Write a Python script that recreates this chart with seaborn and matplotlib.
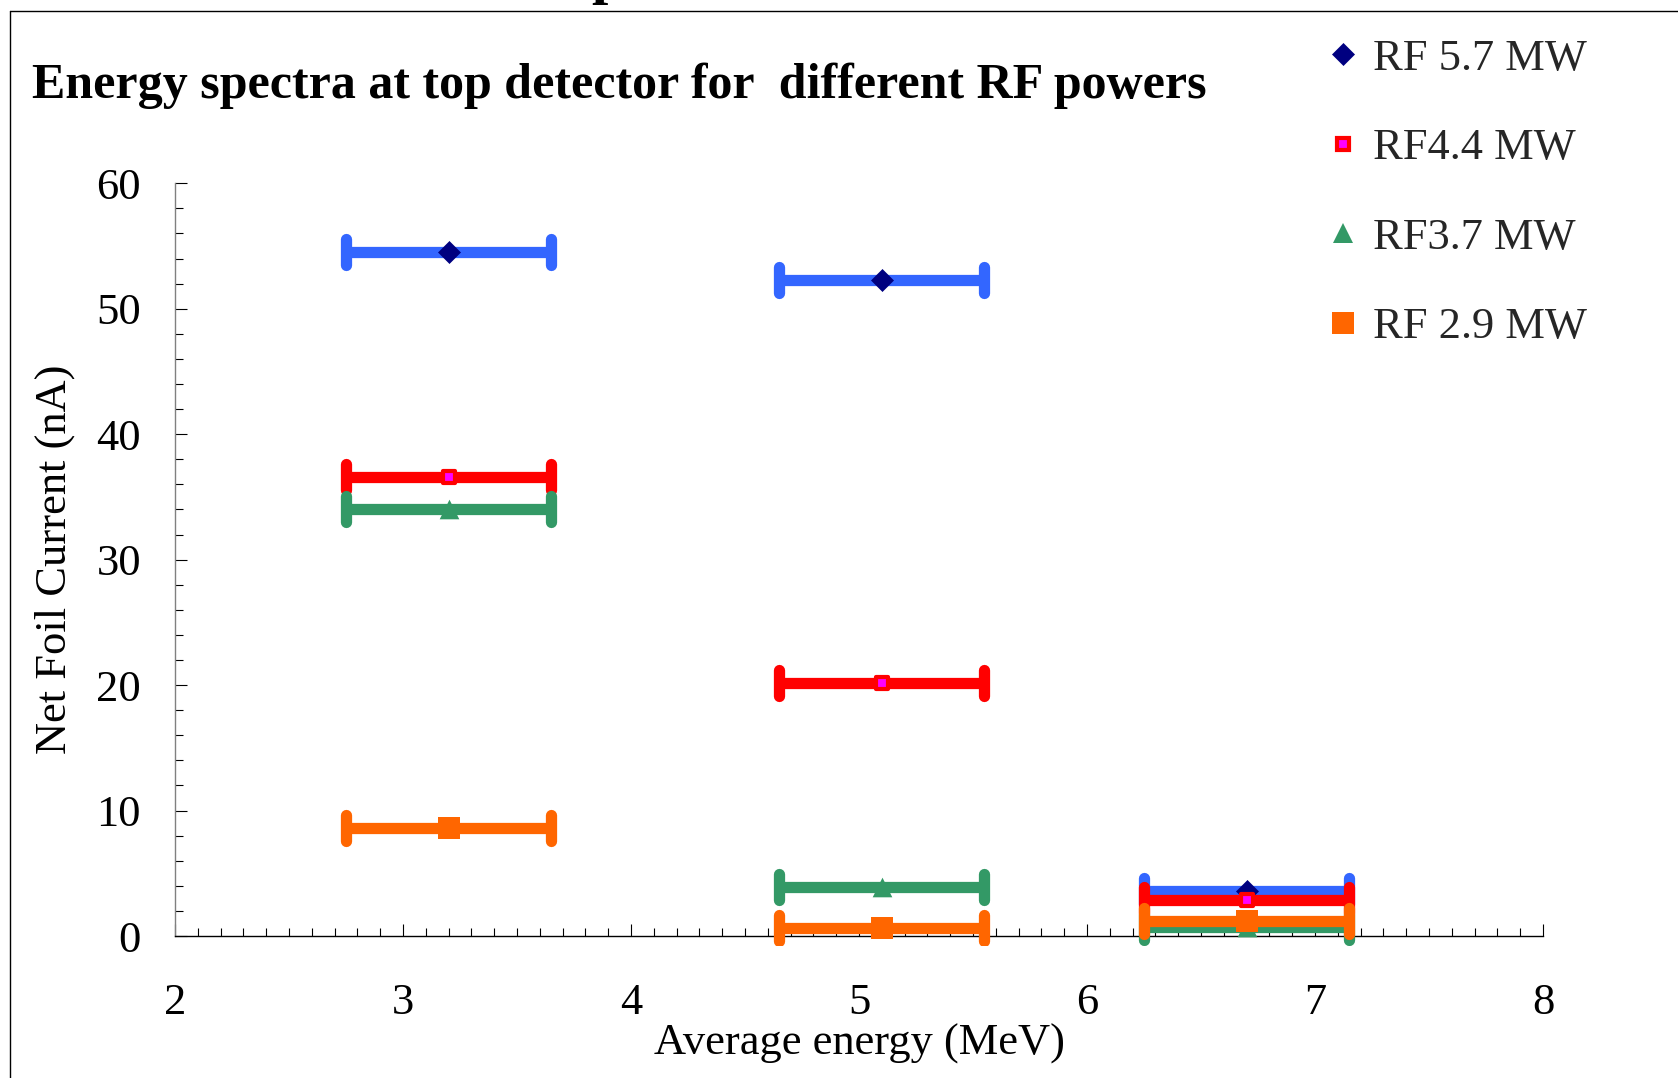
import numpy as np
import pandas as pd
import matplotlib
matplotlib.use("Agg")
import matplotlib.pyplot as plt
import seaborn as sns
from matplotlib.lines import Line2D
from matplotlib.markers import MarkerStyle
from matplotlib.patches import Rectangle
from matplotlib.ticker import MultipleLocator

# ---------------- data ----------------
energy = [3.2, 5.1, 6.7]            # average energy (MeV)
energy_halfwidth = [0.45, 0.45, 0.45]
rf57 = [54.5, 52.3, 3.6]            # RF 5.7 MW
rf44 = [36.6, 20.2, 2.9]            # RF 4.4 MW
rf37 = [34.0, 3.9, 0.7]             # RF 3.7 MW
rf29 = [8.6, 0.6, 1.2]              # RF 2.9 MW
labels = ["RF 5.7 MW", "RF4.4 MW", "RF3.7 MW", "RF 2.9 MW"]
title = "Energy spectra at top detector for  different RF powers"
xlabel = "Average energy (MeV)"
ylabel = "Net Foil Current (nA)"

sns.set_style("white")
plt.rcParams["font.family"] = ["Liberation Serif", "DejaVu Serif"]

fig = plt.figure(figsize=(16.78, 10.78), dpi=100)
ax = fig.add_axes([0.1043, 0.1317, 0.8153, 0.6983])
ax.set_facecolor("white")

styles = [
    # values, bar colour, marker, face, edge, size(pt^2), edge width
    (rf57, "#3366FF", "D", "#000080", "#000080", 125, 0.5),
    (rf44, "#FF0000", "s", "#FF00FF", "#FF0000", 85, 3.0),
    (rf37, "#339966", "^", "#339966", "#339966", 200, 0.0),
    (rf29, "#FF6600", "s", "#FF6600", "#FF6600", 250, 0.0),
]

handles = []
for i, (vals, bar_c, mk, face, edge, s, lw) in enumerate(styles):
    z = 3 + 2 * i
    eb = ax.errorbar(energy, vals, xerr=energy_halfwidth, fmt="none",
                     ecolor=bar_c, elinewidth=8.1, capsize=9.5, capthick=8.1,
                     zorder=z)
    clip = Rectangle((2, -0.72), 6, 80, transform=ax.transData)
    for cl in eb[1]:
        cl.set_marker(MarkerStyle("|", capstyle="round"))
        cl.set_zorder(z)
        cl.set_clip_on(True)
        cl.set_clip_path(clip)
    for bc in eb[2]:
        bc.set_zorder(z)
        bc.set_clip_on(True)
        bc.set_clip_path(clip)
    sns.scatterplot(x=energy, y=vals, marker=mk, s=s, color=face,
                    edgecolor=edge, linewidth=lw, zorder=z + 1, ax=ax,
                    legend=False, clip_on=False)
    handles.append(Line2D([], [], ls="none", marker=mk, markersize=np.sqrt(s),
                          markerfacecolor=face, markeredgecolor=edge,
                          markeredgewidth=lw))

ax.set_xlim(2, 8)
ax.set_ylim(0, 60)
ax.xaxis.set_major_locator(MultipleLocator(1))
ax.xaxis.set_minor_locator(MultipleLocator(0.1))
ax.yaxis.set_major_locator(MultipleLocator(10))
ax.yaxis.set_minor_locator(MultipleLocator(2))
ax.grid(False)

ax.tick_params(which="both", direction="in", bottom=True, left=True,
               top=False, right=False, colors="black", width=0.8)
ax.tick_params(which="major", length=8.6, labelsize=32)
ax.tick_params(which="minor", length=5.8)
ax.tick_params(axis="x", which="major", pad=34)
ax.tick_params(axis="y", which="major", pad=24.5)

for side in ("top", "right"):
    ax.spines[side].set_visible(False)
ax.spines["left"].set_color("#808080")
ax.spines["bottom"].set_color("black")
ax.spines["left"].set_linewidth(1.0)
ax.spines["bottom"].set_linewidth(1.0)

ax.set_xlabel(xlabel, fontsize=32, labelpad=0, color="black")
ax.set_ylabel(ylabel, fontsize=32, labelpad=15, color="black")

fig.text(32 / 1678, 1 - 98 / 1078, title, ha="left", va="baseline",
         fontsize=36, fontweight="bold", color="black")
# fragment of a heading cut off at the top edge
fig.text(608 / 1678, 1 + 6.6 / 1078, "p", ha="center", va="baseline",
         fontsize=42, fontweight="bold", color="black")

fig.legend(handles, labels, loc="upper left", bbox_to_anchor=(0.7897, 0.964),
           frameon=False, fontsize=32, handlelength=0.8, handletextpad=0.275,
           labelspacing=1.11, borderpad=0, borderaxespad=0)

# outer frame (cut at right and bottom)
fig.add_artist(Line2D([0.006, 0.006], [0, 0.9898], transform=fig.transFigure,
                      color="black", lw=1.0))
fig.add_artist(Line2D([0.006, 1.0], [0.9898, 0.9898], transform=fig.transFigure,
                      color="black", lw=1.0))

fig.savefig("out.png", dpi=100)
